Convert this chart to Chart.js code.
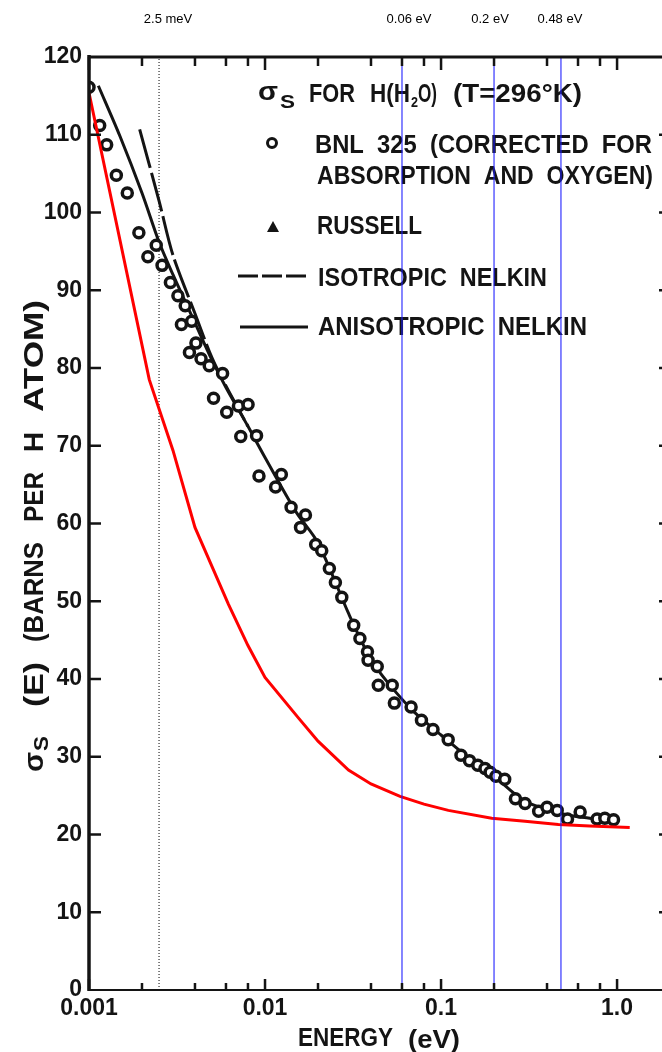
<!DOCTYPE html>
<html lang="en">
<head>
  <meta charset="UTF-8">
  <title>Scattering cross section of H in H2O</title>
  <script src="https://cdn.jsdelivr.net/npm/chart.js@4.4.1/dist/chart.umd.min.js"></script>
  <style>
    html, body { margin: 0; padding: 0; background: #ffffff; }
    #wrap { width: 662px; height: 1052px; }
  </style>
</head>
<body>
  <div id="wrap"><canvas id="sigmaChart" width="662" height="1052"></canvas></div>

  <script>
    // ---- data ----
    // BNL 325 measured points (energy in eV, sigma in barns per H atom)
    const bnlEnergy = [0.00100, 0.00115, 0.00126, 0.00143, 0.00165, 0.00192, 0.00216, 0.00241, 0.00260, 0.00290,
      0.00320, 0.00352, 0.00335, 0.00383, 0.00405, 0.00372, 0.00433, 0.00482, 0.00574, 0.00510,
      0.00606, 0.00706, 0.00801, 0.00728, 0.00895, 0.00924, 0.01238, 0.01148, 0.01406, 0.01697,
      0.01591, 0.0194, 0.0210, 0.0232, 0.0251, 0.0273, 0.0319, 0.0346, 0.0382, 0.0385,
      0.0434, 0.0440, 0.0528, 0.0543, 0.0676, 0.0774, 0.0900, 0.1098, 0.1298, 0.145,
      0.1618, 0.1777, 0.190, 0.205, 0.2300, 0.2646, 0.300, 0.3585, 0.400, 0.457,
      0.523, 0.617, 0.770, 0.852, 0.955];
    const bnlSigma = [116.1, 111.2, 108.7, 104.8, 102.5, 97.4, 94.3, 95.8, 93.2, 91.0,
      89.3, 88.0, 85.6, 86.0, 83.2, 82.0, 81.2, 80.3, 79.3, 76.1,
      74.3, 75.1, 75.3, 71.2, 71.3, 66.1, 66.3, 64.7, 62.1, 61.1,
      59.5, 57.3, 56.5, 54.2, 52.4, 50.5, 46.9, 45.2, 43.5, 42.4,
      41.6, 39.2, 39.2, 36.9, 36.4, 34.7, 33.5, 32.2, 30.2, 29.5,
      28.9, 28.5, 28.0, 27.5, 27.1, 24.6, 24.0, 23.0, 23.5, 23.1,
      22.0, 22.9, 22.0, 22.1, 21.9];

    // Anisotropic Nelkin (solid) curve
    const anisoEnergy = [0.00113, 0.0015, 0.002, 0.0025, 0.003, 0.004, 0.005, 0.006, 0.008, 0.01,
      0.015, 0.02, 0.03, 0.04, 0.05, 0.07, 0.1, 0.15, 0.2, 0.3, 0.5, 0.7, 1.0];
    const anisoSigma = [116.3, 109.8, 102.5, 96.2, 92.0, 85.8, 81.0, 77.5, 72.5, 68.5,
      61.5, 57.5, 48.3, 42.5, 39.5, 35.8, 32.8, 29.5, 27.5, 24.3, 22.6, 22.1, 21.6];

    // Isotropic Nelkin (dashed) curve, merges with the solid one near 5 meV
    const isoEnergy = [0.00194, 0.0025, 0.003, 0.004, 0.005, 0.006, 0.008];
    const isoSigma = [110.7, 101.5, 94.5, 87.0, 81.3, 77.7, 72.5];

    // red overlay curve
    const redEnergy = [0.001, 0.0022, 0.003, 0.004, 0.0062, 0.008, 0.01, 0.0156, 0.02, 0.0298,
      0.04, 0.0585, 0.08, 0.11, 0.194, 0.3, 0.464, 0.7, 1.18];
    const redSigma = [115.4, 78.5, 69.4, 59.5, 49.6, 44.3, 40.2, 34.9, 32.0, 28.3,
      26.5, 24.9, 23.9, 23.1, 22.1, 21.7, 21.3, 21.1, 20.9];

    // marker lines
    const blueLineEnergy = [0.06, 0.2, 0.48];
    const blueLineLabels = ['0.06 eV', '0.2 eV', '0.48 eV'];
    const dottedLineEnergy = 0.0025;
    const dottedLineLabel = '2.5 meV';

    // axes
    const xTickValues = [0.001, 0.01, 0.1, 1];
    const xTickLabels = ['0.001', '0.01', '0.1', '1.0'];
    const xMin = 0.001, xMax = 1.8;
    const yMin = 0, yMax = 120, yStep = 10;

    const INK = '#141414';
    const BOLD = '"Liberation Sans", Arial, sans-serif';

    const toPoints = (xs, ys) => xs.map((x, i) => ({ x: x, y: ys[i] }));

    // draw a string squeezed/stretched to a given width
    function fitText(ctx, str, x, y, w, font) {
      ctx.font = font;
      const m = ctx.measureText(str).width;
      ctx.save();
      ctx.translate(x, y);
      ctx.scale(w / m, 1);
      ctx.textAlign = 'left';
      ctx.textBaseline = 'alphabetic';
      ctx.fillText(str, 0, 0);
      ctx.restore();
    }

    // legend, titles, frame and inward ticks like the old paper figure
    const paperPlugin = {
      id: 'paper',
      beforeDatasetsDraw(chart) {
        const ctx = chart.ctx;
        const xs = chart.scales.x;
        ctx.save();
        ctx.fillStyle = INK;
        ctx.strokeStyle = INK;

        // legend block
        fitText(ctx, 'σ', 258, 100, 20, 'bold 26px ' + BOLD);
        fitText(ctx, 'S', 280, 108, 15, 'bold 18px ' + BOLD);
        fitText(ctx, 'FOR', 309, 102, 46, 'bold 26px ' + BOLD);
        fitText(ctx, 'H(H', 370, 102, 40, 'bold 26px ' + BOLD);
        fitText(ctx, '2', 411, 107, 7, 'bold 15px ' + BOLD);
        fitText(ctx, 'O)', 418, 102, 19, 'bold 26px ' + BOLD);
        fitText(ctx, '(T=296°K)', 453, 102, 129, 'bold 26px ' + BOLD);

        ctx.lineWidth = 3;
        ctx.beginPath();
        ctx.arc(272, 143, 4.5, 0, Math.PI * 2);
        ctx.stroke();
        fitText(ctx, 'BNL  325  (CORRECTED  FOR', 315, 153, 337, 'bold 25px ' + BOLD);
        fitText(ctx, 'ABSORPTION  AND  OXYGEN)', 317, 184, 336, 'bold 25px ' + BOLD);

        ctx.beginPath();
        ctx.moveTo(273, 221);
        ctx.lineTo(279, 232);
        ctx.lineTo(267, 232);
        ctx.closePath();
        ctx.fill();
        fitText(ctx, 'RUSSELL', 317, 234, 105, 'bold 25px ' + BOLD);

        ctx.lineWidth = 3;
        ctx.setLineDash([20, 4]);
        ctx.beginPath();
        ctx.moveTo(238, 276);
        ctx.lineTo(308, 276);
        ctx.stroke();
        ctx.setLineDash([]);
        fitText(ctx, 'ISOTROPIC  NELKIN', 318, 286, 229, 'bold 25px ' + BOLD);

        ctx.beginPath();
        ctx.moveTo(240, 327);
        ctx.lineTo(308, 327);
        ctx.stroke();
        fitText(ctx, 'ANISOTROPIC  NELKIN', 318, 335, 269, 'bold 25px ' + BOLD);

        // labels above the marker lines
        ctx.font = '13px ' + BOLD;
        ctx.textAlign = 'center';
        ctx.textBaseline = 'alphabetic';
        ctx.fillStyle = '#000';
        ctx.fillText(dottedLineLabel, xs.getPixelForValue(dottedLineEnergy) + 9, 23);
        const offs = [7, -4, -1];
        blueLineEnergy.forEach((e, i) => {
          ctx.fillText(blueLineLabels[i], xs.getPixelForValue(e) + offs[i], 23);
        });

        // axis titles
        ctx.fillStyle = INK;
        fitText(ctx, 'ENERGY', 298, 1046, 95, 'bold 26px ' + BOLD);
        fitText(ctx, '(eV)', 408, 1048, 52, 'bold 26px ' + BOLD);

        ctx.save();
        ctx.translate(43, 772);
        ctx.rotate(-Math.PI / 2);
        fitText(ctx, 'σ', 0, 0, 20, 'bold 28px ' + BOLD);
        fitText(ctx, 'S', 21, 5, 15, 'bold 20px ' + BOLD);
        fitText(ctx, '(E)', 65, 0, 45, 'bold 28px ' + BOLD);
        fitText(ctx, '(BARNS', 130, 0, 100, 'bold 28px ' + BOLD);
        fitText(ctx, 'PER', 250, 0, 50, 'bold 28px ' + BOLD);
        fitText(ctx, 'H', 320, 0, 20, 'bold 28px ' + BOLD);
        fitText(ctx, 'ATOM)', 360, 0, 112, 'bold 28px ' + BOLD);
        ctx.restore();

        ctx.restore();
      },
      afterDatasetsDraw(chart) {
        const ctx = chart.ctx;
        const a = chart.chartArea;
        const xs = chart.scales.x;
        const ys = chart.scales.y;
        ctx.save();
        ctx.strokeStyle = INK;
        ctx.lineCap = 'butt';

        // frame: left and top heavy, bottom a bit lighter
        ctx.lineWidth = 3.5;
        ctx.beginPath();
        ctx.moveTo(a.left, a.top - 2);
        ctx.lineTo(a.left, a.bottom + 1);
        ctx.stroke();
        ctx.lineWidth = 3;
        ctx.beginPath();
        ctx.moveTo(a.left, a.top);
        ctx.lineTo(a.right, a.top);
        ctx.stroke();
        ctx.lineWidth = 2;
        ctx.beginPath();
        ctx.moveTo(a.left, a.bottom);
        ctx.lineTo(a.right, a.bottom);
        ctx.stroke();

        // y ticks pointing into the plot, stubs of the cut-off right axis
        ctx.lineWidth = 2.5;
        for (let v = yMin + yStep; v < yMax; v += yStep) {
          const py = ys.getPixelForValue(v);
          ctx.beginPath();
          ctx.moveTo(a.left, py);
          ctx.lineTo(a.left + 12, py);
          ctx.moveTo(a.right - 3, py);
          ctx.lineTo(a.right, py);
          ctx.stroke();
        }

        // x ticks on bottom (up) and top (down): decades long, 2-4-6-8 short
        ctx.lineWidth = 2.5;
        for (let d = -3; d <= 0; d++) {
          [1, 2, 4, 6, 8].forEach(m => {
            const e = m * Math.pow(10, d);
            if (e < xMin || e > xMax) return;
            const px = xs.getPixelForValue(e);
            const len = m === 1 ? 11 : 7;
            ctx.beginPath();
            ctx.moveTo(px, a.bottom);
            ctx.lineTo(px, a.bottom - len);
            ctx.moveTo(px, a.top);
            ctx.lineTo(px, a.top + len + 2);
            ctx.stroke();
          });
        }
        ctx.restore();
      }
    };

    const vLine = (e) => [{ x: e, y: yMin }, { x: e, y: yMax }];

    const datasets = [];
    // blue marker lines on top of everything
    blueLineEnergy.forEach(e => {
      datasets.push({
        data: vLine(e), showLine: true, borderColor: 'rgba(30,30,255,0.9)',
        borderWidth: 1.2, pointRadius: 0
      });
    });
    datasets.push({
      label: 'red', data: toPoints(redEnergy, redSigma), showLine: true,
      borderColor: '#ff0000', borderWidth: 3, pointRadius: 0, tension: 0
    });
    datasets.push({
      label: 'BNL 325', data: toPoints(bnlEnergy, bnlSigma), showLine: false,
      pointStyle: 'circle', pointRadius: 5, borderWidth: 3.5,
      borderColor: INK, backgroundColor: '#ffffff'
    });
    datasets.push({
      label: 'Anisotropic Nelkin', data: toPoints(anisoEnergy, anisoSigma), showLine: true,
      borderColor: INK, borderWidth: 3, pointRadius: 0, tension: 0.3
    });
    datasets.push({
      label: 'Isotropic Nelkin', data: toPoints(isoEnergy, isoSigma), showLine: true,
      borderColor: INK, borderWidth: 3, borderDash: [40, 5], pointRadius: 0, tension: 0.3
    });
    datasets.push({
      label: '2.5 meV', data: vLine(dottedLineEnergy), showLine: true,
      borderColor: '#000', borderWidth: 1, borderDash: [1, 2], pointRadius: 0
    });

    new Chart(document.getElementById('sigmaChart'), {
      type: 'scatter',
      data: { datasets: datasets },
      plugins: [paperPlugin],
      options: {
        responsive: false,
        animation: false,
        devicePixelRatio: 1,
        // the plot frame runs off the right edge of the scan, so no auto padding
        layout: { autoPadding: false, padding: { top: 57, left: 0, right: 0, bottom: 0 } },
        plugins: { legend: { display: false }, tooltip: { enabled: false } },
        scales: {
          x: {
            type: 'logarithmic', min: xMin, max: xMax,
            grid: { display: false, drawTicks: false }, border: { display: false },
            afterBuildTicks: axis => { axis.ticks = xTickValues.map(v => ({ value: v })); },
            afterFit: axis => { axis.height = 62; },
            ticks: {
              autoSkip: false, maxRotation: 0, padding: 5, color: INK,
              font: { family: BOLD, weight: 'bold', size: 23 },
              callback: (v, i) => xTickLabels[i]
            }
          },
          y: {
            type: 'linear', min: yMin, max: yMax,
            grid: { display: false, drawTicks: false }, border: { display: false },
            afterFit: axis => { axis.width = 89; },
            ticks: {
              stepSize: yStep, padding: 7, color: INK,
              font: { family: BOLD, weight: 'bold', size: 23 }
            }
          }
        }
      }
    });
  </script>
</body>
</html>
